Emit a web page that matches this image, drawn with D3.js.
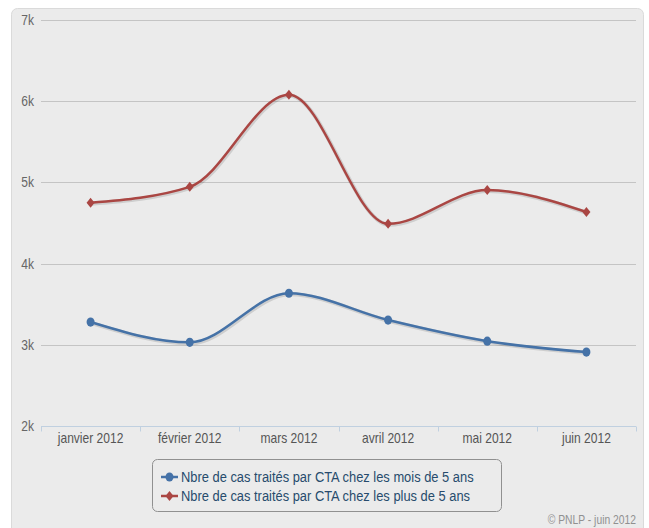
<!DOCTYPE html>
<html>
<head>
<meta charset="utf-8">
<script src="https://cdn.jsdelivr.net/npm/d3@7"></script>
<style>
  html, body { margin: 0; padding: 0; background: #fff; }
  svg { display: block; font-family: "Liberation Sans", sans-serif; }
</style>
</head>
<body>
<script>
const months = ["janvier 2012", "février 2012", "mars 2012", "avril 2012", "mai 2012", "juin 2012"];
const moinsDe5 = [3280, 3030, 3635, 3305, 3045, 2910];
const plusDe5 = [4750, 4945, 6080, 4490, 4905, 4635];
const yTicks = [2000, 3000, 4000, 5000, 6000, 7000];
const seriesNames = [
  "Nbre de cas traités par CTA chez les mois de 5 ans",
  "Nbre de cas traités par CTA chez les plus de 5 ans"
];
const credit = "© PNLP - juin 2012";

const W = 649, H = 528;
const BLUE = "#4572A7", RED = "#AA4643";
const NARROW = 0.86; // squeeze text to mimic the condensed face

const svg = d3.select("body").append("svg").attr("width", W).attr("height", H);

// condensed-looking text
const label = (sel, px, py, str, size, fill, anchor) =>
  sel.append("text")
    .attr("transform", `translate(${px},${py}) scale(${NARROW},1)`)
    .attr("text-anchor", anchor || "start")
    .attr("font-size", size).attr("fill", fill)
    .text(str);

// panel
svg.append("rect")
  .attr("x", 11.5).attr("y", 8.5).attr("width", 632).attr("height", 540)
  .attr("rx", 6).attr("fill", "#ebebeb").attr("stroke", "#dadada");

const x = d3.scaleBand().domain(months).range([41, 636]);
const y = d3.scaleLinear().domain([2000, 7000]).range([426, 20]);

// grid
svg.append("g").selectAll("line")
  .data(yTicks.filter((d) => d > 2000))
  .join("line")
  .attr("x1", 41).attr("x2", 636)
  .attr("y1", (d) => Math.round(y(d)) + 0.5).attr("y2", (d) => Math.round(y(d)) + 0.5)
  .attr("stroke", "#c4c4c4").attr("stroke-width", 1);

// y labels
const yl = svg.append("g");
yTicks.forEach((d) => label(yl, 34, y(d) + 5, d / 1000 + "k", 14, "#666", "end"));

// x axis
const xAxis = svg.append("g").attr("transform", `translate(0,${Math.round(y(2000)) + 0.5})`);
xAxis.append("line").attr("x1", 41).attr("x2", 636).attr("stroke", "#C0D0E0");
const bounds = months.map((m) => x(m)).concat([x.range()[1]]);
xAxis.selectAll(".tick")
  .data(bounds)
  .join("line")
  .attr("x1", (d) => Math.round(d) + 0.5).attr("x2", (d) => Math.round(d) + 0.5)
  .attr("y1", 0).attr("y2", 5)
  .attr("stroke", "#C0D0E0");
months.forEach((m) => label(xAxis, x(m) + x.bandwidth() / 2, 16, m, 14, "#555", "middle"));

const cx = (i) => x(months[i]) + x.bandwidth() / 2;
const line = d3.line()
  .x((d, i) => cx(i))
  .y((d) => y(d))
  .curve(d3.curveMonotoneX);

const diamond = (s) => `M0,${-s}L${s * 0.8},0L0,${s}L${-s * 0.8},0Z`;

const series = [
  { data: moinsDe5, color: BLUE, marker: "circle" },
  { data: plusDe5, color: RED, marker: "diamond" }
];

series.forEach((s) => {
  // soft shadow
  svg.append("path")
    .attr("d", line(s.data))
    .attr("transform", "translate(1,1)")
    .attr("fill", "none").attr("stroke", "#000").attr("stroke-opacity", 0.12)
    .attr("stroke-width", 4);
  svg.append("path")
    .attr("d", line(s.data))
    .attr("fill", "none").attr("stroke", s.color).attr("stroke-width", 2.5);
  const g = svg.append("g");
  s.data.forEach((v, i) => {
    if (s.marker === "circle") {
      g.append("ellipse").attr("cx", cx(i)).attr("cy", y(v)).attr("rx", 4).attr("ry", 4.6).attr("fill", s.color);
    } else {
      g.append("path").attr("d", diamond(5)).attr("transform", `translate(${cx(i)},${y(v)})`).attr("fill", s.color);
    }
  });
});

// legend
const lg = svg.append("g");
lg.append("rect")
  .attr("x", 152.5).attr("y", 459.5).attr("width", 349).attr("height", 52)
  .attr("rx", 5).attr("fill", "none").attr("stroke", "#909090");
seriesNames.forEach((name, i) => {
  const ly = 477 + i * 19;
  lg.append("line").attr("x1", 161).attr("x2", 178).attr("y1", ly).attr("y2", ly)
    .attr("stroke", series[i].color).attr("stroke-width", 2.5);
  if (series[i].marker === "circle") {
    lg.append("ellipse").attr("cx", 169.5).attr("cy", ly).attr("rx", 4).attr("ry", 4.6).attr("fill", series[i].color);
  } else {
    lg.append("path").attr("d", diamond(5)).attr("transform", `translate(169.5,${ly})`).attr("fill", series[i].color);
  }
  label(lg, 181, ly + 5, name, 15, "#274b6d");
});

// credits
label(svg, 636, 524, credit, 12, "#909090", "end");
</script>
</body>
</html>
